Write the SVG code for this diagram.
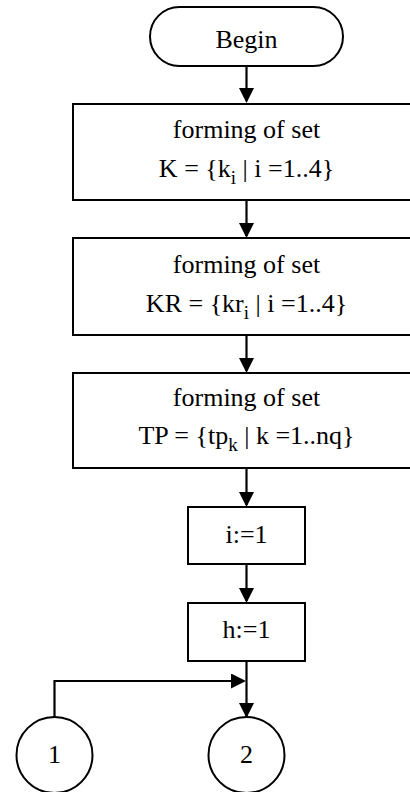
<svg xmlns="http://www.w3.org/2000/svg" width="410" height="792" viewBox="0 0 410 792" font-family="'Liberation Serif', 'Times New Roman', serif">
<style>
.shape{fill:#fff;stroke:#000;stroke-width:2}
.conn{fill:none;stroke:#000;stroke-width:2.2}
text{font-family:'Liberation Serif','Times New Roman',serif;font-size:26px;fill:#000;text-anchor:middle}
.sub{font-size:19px}
</style>
<defs>
<marker id="arr" markerUnits="userSpaceOnUse" markerWidth="16" markerHeight="16" refX="13" refY="7.5" orient="auto">
<path d="M0,0 L15,7.5 L0,15 z" fill="#000"/>
</marker>
</defs>
<g id="connectors">
<line class="conn" x1="246.5" y1="66" x2="246.5" y2="101" marker-end="url(#arr)"/>
<line class="conn" x1="246.5" y1="200" x2="246.5" y2="236" marker-end="url(#arr)"/>
<line class="conn" x1="246.5" y1="335" x2="246.5" y2="371" marker-end="url(#arr)"/>
<line class="conn" x1="246.5" y1="468" x2="246.5" y2="505" marker-end="url(#arr)"/>
<line class="conn" x1="246.5" y1="564" x2="246.5" y2="601" marker-end="url(#arr)"/>
<line class="conn" x1="246.5" y1="661" x2="246.5" y2="716" marker-end="url(#arr)"/>
<path class="conn" d="M54.5,718 V681 H244" marker-end="url(#arr)"/>
</g>
<g id="begin">
<rect class="shape" x="150" y="7" width="193" height="59" rx="29.5" ry="29.5"/>
<text x="246.5" y="48">Begin</text>
</g>
<g id="setK">
<rect class="shape" x="73" y="104" width="347" height="96"/>
<text x="246.5" y="138">forming of set</text>
<text x="246.5" y="177">K = {k<tspan class="sub" dy="7">i</tspan><tspan dy="-7"> | i =1..4}</tspan></text>
</g>
<g id="setKR">
<rect class="shape" x="73" y="238" width="347" height="97"/>
<text x="246.5" y="273">forming of set</text>
<text x="246.5" y="312">KR = {kr<tspan class="sub" dy="7">i</tspan><tspan dy="-7"> | i =1..4}</tspan></text>
</g>
<g id="setTP">
<rect class="shape" x="73" y="373" width="347" height="95"/>
<text x="246.5" y="406">forming of set</text>
<text x="246.5" y="444">TP = {tp<tspan class="sub" dy="7">k</tspan><tspan dy="-7"> | k =1..nq}</tspan></text>
</g>
<g id="initI">
<rect class="shape" x="188" y="507" width="117" height="57"/>
<text x="246.5" y="543">i:=1</text>
</g>
<g id="initH">
<rect class="shape" x="188" y="603" width="117" height="58"/>
<text x="246.5" y="638">h:=1</text>
</g>
<g id="conn1">
<circle class="shape" cx="54.5" cy="755" r="38"/>
<text x="54.5" y="763">1</text>
</g>
<g id="conn2">
<circle class="shape" cx="246.5" cy="755" r="38"/>
<text x="246.5" y="763">2</text>
</g>
</svg>
